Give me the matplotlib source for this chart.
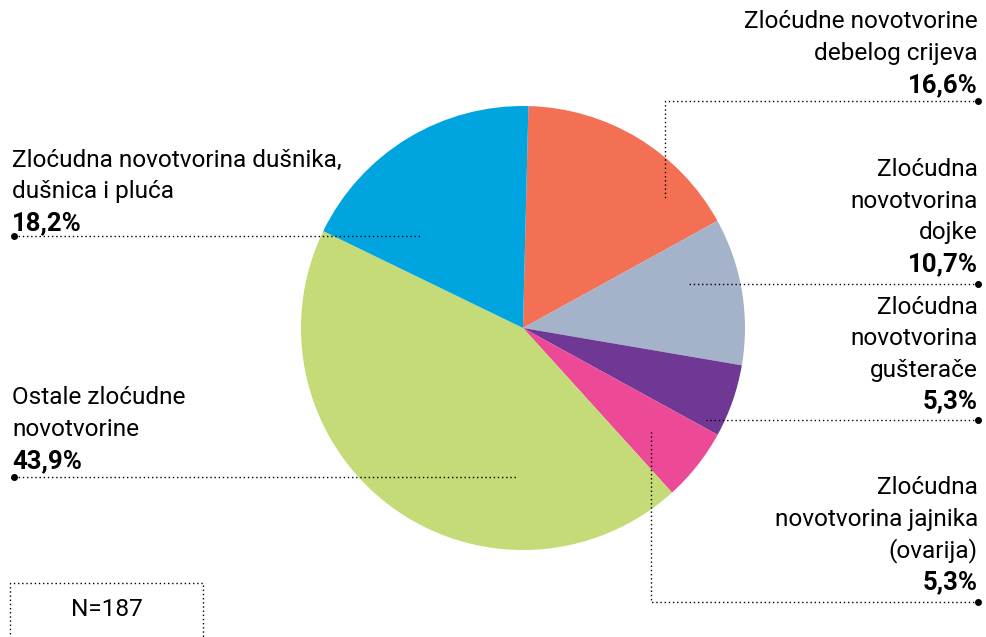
import matplotlib.pyplot as plt

plt.rcParams['font.family'] = ['Roboto', 'DejaVu Sans']

# data
labels = ['Zloćudne novotvorine\ndebelog crijeva',
          'Zloćudna\nnovotvorina\ndojke',
          'Zloćudna\nnovotvorina\ngušterače',
          'Zloćudna\nnovotvorina jajnika\n(ovarija)',
          'Ostale zloćudne\nnovotvorine',
          'Zloćudna novotvorina dušnika,\ndušnica i pluća']
values = [16.6, 10.7, 5.3, 5.3, 43.9, 18.2]
colors = ['#F37055', '#A4B3C9', '#6E3894', '#EC4A97', '#C4DB77', '#00A5E0']
sample_n = 187

W, H = 986, 637
fig = plt.figure(figsize=(W / 100, H / 100), dpi=100)
ax = fig.add_axes([0, 0, 1, 1])


def py(y):
    # pixel row (from top) -> data y
    return H - y


ax.pie(values, colors=colors, startangle=88.6, counterclock=False,
       center=(523, py(328)), radius=222, wedgeprops=dict(linewidth=0))
ax.set_xlim(0, W)
ax.set_ylim(0, H)
ax.set_aspect('equal')
ax.axis('off')

dot = dict(color='black', linewidth=1, linestyle=(0, (1, 2)))

# label placement: (x, first line center y, align, leader path)
layout = [
    (978, 22, 'right', [(978, 101), (665, 101), (665, 200)]),
    (978, 170, 'right', [(978, 284), (688, 284)]),
    (978, 307, 'right', [(978, 420), (706, 420)]),
    (978, 488, 'right', [(978, 602), (651, 602), (651, 430)]),
    (12, 398, 'left', [(14, 477), (517, 477)]),
    (12, 160, 'left', [(14, 236), (422, 236)]),
]

step = 31.5
for lab, val, (x, y0, ha, path) in zip(labels, values, layout):
    lines = lab.split('\n')
    for i, line in enumerate(lines):
        ax.text(x, py(y0 + i * step), line, ha=ha, va='center',
                fontsize=17.6, color='black')
    pct = f'{val:.1f}%'.replace('.', ',')
    ax.text(x, py(y0 + len(lines) * step), pct, ha=ha, va='center',
            fontsize=18.5, fontweight='bold', color='black')
    xs = [p[0] for p in path]
    ys = [py(p[1]) for p in path]
    ax.plot(xs, ys, **dot)
    ax.plot(xs[0], ys[0], 'o', color='black', markersize=4)

# N box
ax.plot([10, 10, 203, 203], [py(640), py(583), py(583), py(640)], **dot)
ax.text(107, py(609), f'N={sample_n}', ha='center', va='center',
        fontsize=17.6, color='black')

fig.savefig('out.png', dpi=100)
